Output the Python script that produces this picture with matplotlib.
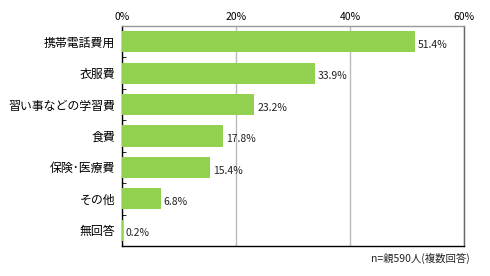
import matplotlib
matplotlib.use("Agg")
import matplotlib.pyplot as plt
from matplotlib.ticker import FixedLocator

plt.rcParams['font.family'] = ['Noto Sans CJK JP', 'DejaVu Sans']

categories = ["携帯電話費用", "衣服費", "習い事などの学習費", "食費", "保険･医療費", "その他", "無回答"]
values = [51.4, 33.9, 23.2, 17.8, 15.4, 6.8, 0.2]
xticks = [0, 20, 40, 60]
note = "n=親590人(複数回答)"

fig = plt.figure(figsize=(4.9, 2.76), dpi=100)
ax = fig.add_axes([122/490, 30/276, (464-122)/490, (246-26)/276])

n = len(categories)
ys = list(range(n))
ax.barh(ys, values, height=0.67, color="#92D050", zorder=3)
for y, v in zip(ys, values):
    ax.text(v + 0.5, y + 0.1, f"{v:.1f}%", va="center", ha="left", fontsize=7.5, color="#222222", zorder=4)

ax.set_xlim(0, 60)
ax.set_ylim(n - 0.5, -0.5)
ax.xaxis.tick_top()
ax.set_xticks(xticks)
ax.set_xticklabels([f"{t}%" for t in xticks], fontsize=7.5)
ax.tick_params(axis='x', length=0, pad=3)
ax.set_yticks(ys)
ax.set_yticklabels(categories, fontsize=8.6)
ax.tick_params(axis='y', which='major', length=0, pad=5)
ax.yaxis.set_minor_locator(FixedLocator([i + 0.5 for i in range(n - 1)]))
ax.tick_params(axis='y', which='minor', length=3, direction='in', color='black')
ax.grid(axis='x', color="#BBBBBB", linewidth=1, zorder=1)

ax.spines['left'].set_color('black')
ax.spines['bottom'].set_color('black')
ax.spines['right'].set_color('#666666')
ax.spines['top'].set_color('#999999')
for s in ax.spines.values():
    s.set_linewidth(1)

fig.text(470/490, 1 - 258/276, note, ha="right", va="center", fontsize=7.5, color="#222222")

fig.savefig("out.png", dpi=100)
